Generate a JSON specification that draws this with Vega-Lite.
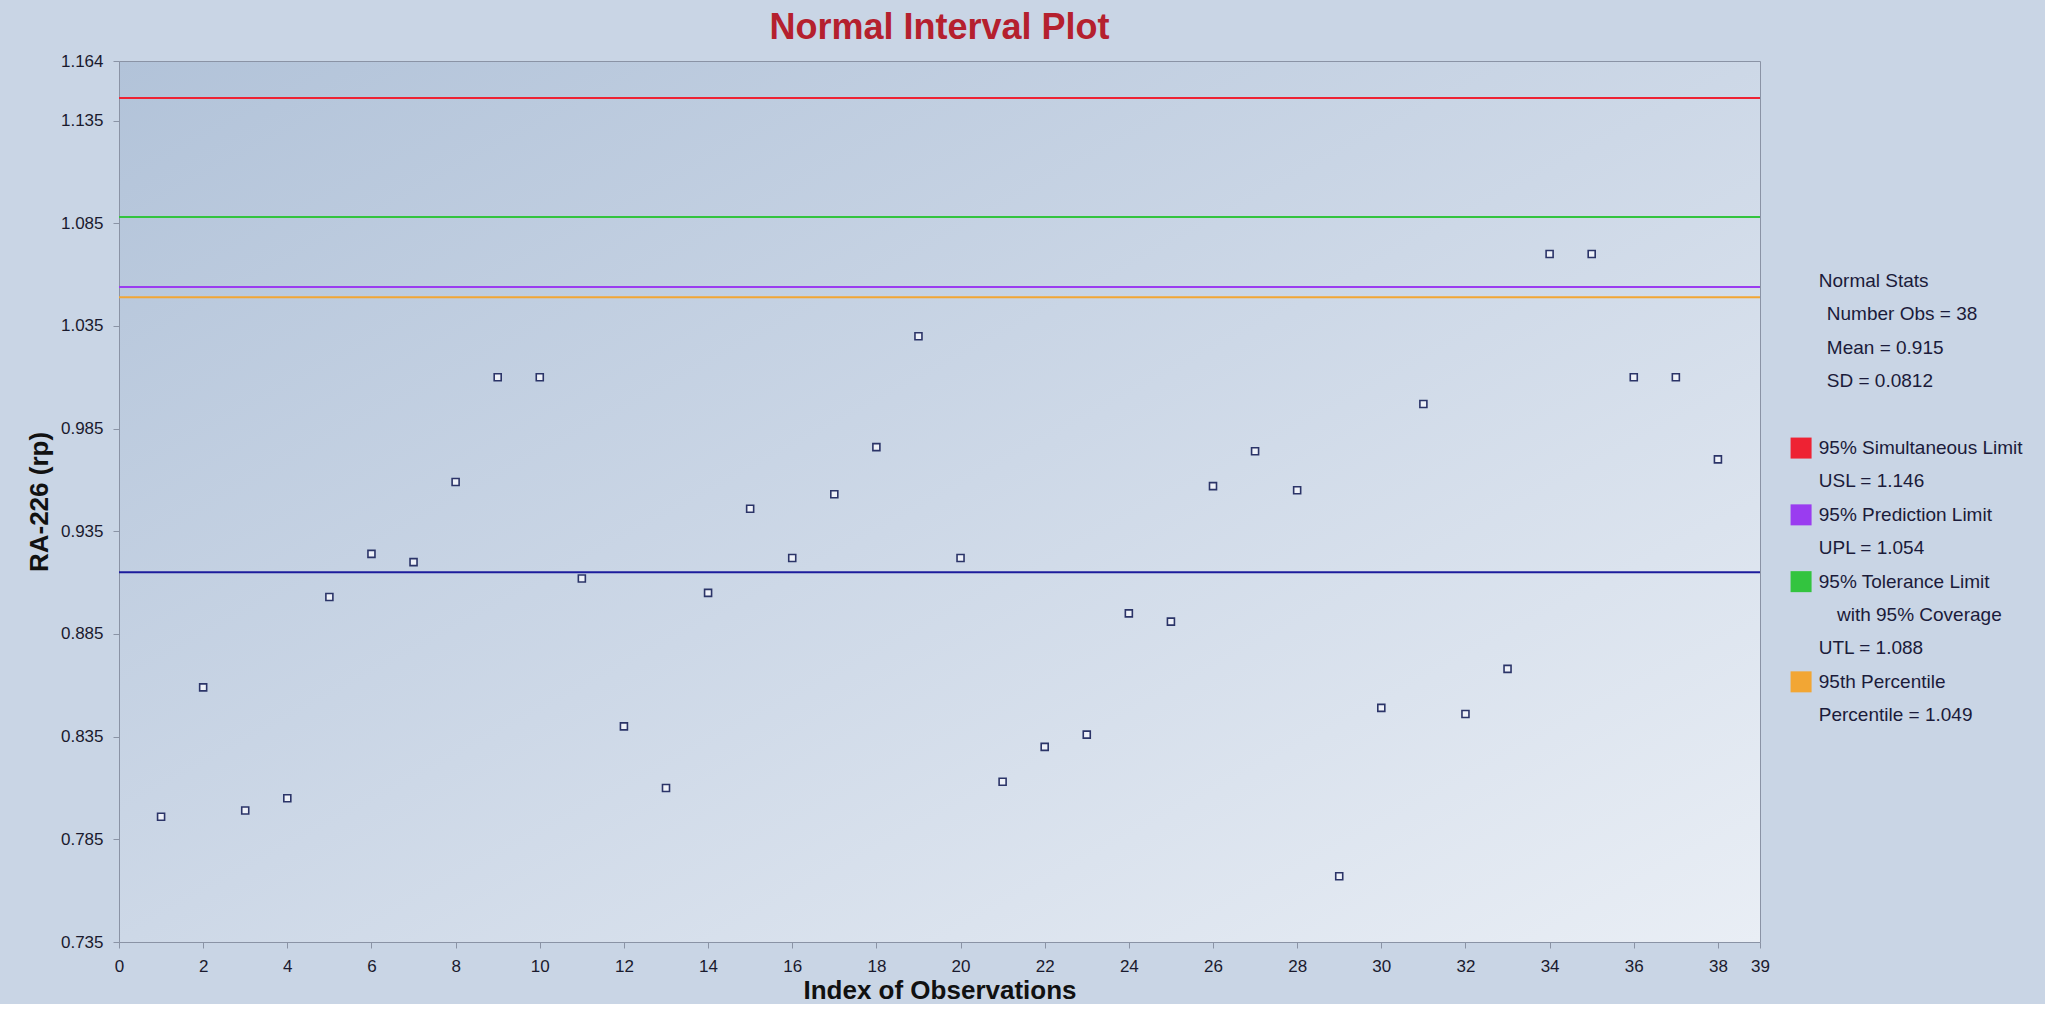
{
  "$schema": "https://vega.github.io/schema/vega-lite/v6.json",
  "background": "#c9d5e5",
  "padding": {"left": 25, "top": 9, "right": 0, "bottom": 0},
  "config": {
    "font": "Liberation Sans",
    "view": {"stroke": null},
    "axis": {"labelFont": "Liberation Sans", "titleFont": "Liberation Sans", "labelColor": "#1a1a2e", "titleColor": "#111111", "grid": false, "domain": false, "tickColor": "#8a93a5"}
  },
  "datasets": {
    "obs": [
      {"index": 1, "value": 0.796}, {"index": 2, "value": 0.859}, {"index": 3, "value": 0.799}, {"index": 4, "value": 0.805},
      {"index": 5, "value": 0.903}, {"index": 6, "value": 0.924}, {"index": 7, "value": 0.920}, {"index": 8, "value": 0.959},
      {"index": 9, "value": 1.010}, {"index": 10, "value": 1.010}, {"index": 11, "value": 0.912}, {"index": 12, "value": 0.840},
      {"index": 13, "value": 0.810}, {"index": 14, "value": 0.905}, {"index": 15, "value": 0.946}, {"index": 16, "value": 0.922},
      {"index": 17, "value": 0.953}, {"index": 18, "value": 0.976}, {"index": 19, "value": 1.030}, {"index": 20, "value": 0.922},
      {"index": 21, "value": 0.813}, {"index": 22, "value": 0.830}, {"index": 23, "value": 0.836}, {"index": 24, "value": 0.895},
      {"index": 25, "value": 0.891}, {"index": 26, "value": 0.957}, {"index": 27, "value": 0.974}, {"index": 28, "value": 0.955},
      {"index": 29, "value": 0.767}, {"index": 30, "value": 0.849}, {"index": 31, "value": 0.997}, {"index": 32, "value": 0.846},
      {"index": 33, "value": 0.868}, {"index": 34, "value": 1.070}, {"index": 35, "value": 1.070}, {"index": 36, "value": 1.010},
      {"index": 37, "value": 1.010}, {"index": 38, "value": 0.970}
    ],
    "limits": [
      {"name": "Simultaneous", "value": 1.146},
      {"name": "Tolerance", "value": 1.088},
      {"name": "Prediction", "value": 1.054},
      {"name": "Percentile", "value": 1.049},
      {"name": "Mean", "value": 0.915}
    ],
    "stats": [
      {"row": 0, "level": 0, "label": "Normal Stats"},
      {"row": 1, "level": 1, "label": "Number Obs = 38"},
      {"row": 2, "level": 1, "label": "Mean = 0.915"},
      {"row": 3, "level": 1, "label": "SD = 0.0812"},
      {"row": 5, "level": 0, "label": "95% Simultaneous Limit"},
      {"row": 6, "level": 0, "label": "USL = 1.146"},
      {"row": 7, "level": 0, "label": "95% Prediction Limit"},
      {"row": 8, "level": 0, "label": "UPL = 1.054"},
      {"row": 9, "level": 0, "label": "95% Tolerance Limit"},
      {"row": 10, "level": 2, "label": "with 95% Coverage"},
      {"row": 11, "level": 0, "label": "UTL = 1.088"},
      {"row": 12, "level": 0, "label": "95th Percentile"},
      {"row": 13, "level": 0, "label": "Percentile = 1.049"}
    ],
    "swatches": [
      {"row": 5, "name": "Simultaneous"},
      {"row": 7, "name": "Prediction"},
      {"row": 9, "name": "Tolerance"},
      {"row": 12, "name": "Percentile"}
    ]
  },
  "spacing": 16,
  "hconcat": [
    {
      "width": 1641,
      "height": 881,
      "title": {"text": "Normal Interval Plot", "color": "#b5202e", "fontSize": 36, "fontWeight": "bold", "font": "Liberation Sans", "offset": 5, "anchor": "middle"},
      "view": {
        "stroke": "#8a93a5",
        "strokeWidth": 1,
        "fill": {"gradient": "linear", "x1": 0, "y1": 0, "x2": 1, "y2": 1, "stops": [{"offset": 0, "color": "#b2c3d9"}, {"offset": 0.5, "color": "#cdd8e7"}, {"offset": 1, "color": "#e9eef5"}]}
      },
      "layer": [
        {
          "data": {"name": "limits"},
          "mark": {"type": "rule", "strokeWidth": 2},
          "encoding": {
            "y": {"field": "value", "type": "quantitative", "scale": {"domain": [0.735, 1.164], "nice": false, "zero": false}},
            "color": {"field": "name", "type": "nominal", "legend": null,
              "scale": {"domain": ["Simultaneous", "Tolerance", "Prediction", "Percentile", "Mean"], "range": ["#ee2233", "#33c43f", "#9a3cf0", "#f2a634", "#1c1c9c"]}}
          }
        },
        {
          "data": {"name": "obs"},
          "mark": {"type": "point", "shape": "square", "size": 49, "filled": true, "fill": "#eef1f8", "stroke": "#2b3468", "strokeWidth": 1.6, "opacity": 1},
          "encoding": {
            "x": {"field": "index", "type": "quantitative",
              "scale": {"domain": [0, 39], "nice": false, "zero": false},
              "axis": {"title": "Index of Observations", "values": [0,2,4,6,8,10,12,14,16,18,20,22,24,26,28,30,32,34,36,38,39], "labelFontSize": 17, "titleFontSize": 26, "titleFontWeight": "bold", "tickSize": 6, "labelPadding": 10, "titlePadding": 3, "labelFlush": false}},
            "y": {"field": "value", "type": "quantitative",
              "scale": {"domain": [0.735, 1.164], "nice": false, "zero": false},
              "axis": {"title": "RA-226 (rp)", "values": [0.735,0.785,0.835,0.885,0.935,0.985,1.035,1.085,1.135,1.164], "format": ".3f", "labelFontSize": 17, "titleFontSize": 26, "titleFontWeight": "bold", "tickSize": 6, "labelPadding": 10, "titlePadding": 8, "labelFlush": false}}
          }
        }
      ]
    },
    {
      "width": 260,
      "height": 881,
      "view": {"stroke": null, "fill": null},
      "layer": [
        {
          "data": {"name": "swatches"},
          "mark": {"type": "point", "shape": "square", "size": 441, "filled": true, "opacity": 1},
          "encoding": {
            "x": {"datum": 0, "type": "quantitative", "scale": {"domain": [-0.58, 9.42], "nice": false, "zero": false}, "axis": null},
            "y": {"field": "row", "type": "quantitative", "scale": {"domain": [-6.59, 19.79], "nice": false, "zero": false, "reverse": true}, "axis": null},
            "color": {"field": "name", "type": "nominal", "legend": null,
              "scale": {"domain": ["Simultaneous", "Tolerance", "Prediction", "Percentile", "Mean"], "range": ["#ff1a2e", "#2ecc3a", "#8b35ee", "#ffab10", "#1c1c9c"]}}
          }
        },
        {
          "data": {"name": "stats"},
          "transform": [{"filter": "datum.level == 0"}],
          "mark": {"type": "text", "align": "left", "baseline": "middle", "fontSize": 19, "color": "#1b1b3a", "font": "Liberation Sans"},
          "encoding": {
            "x": {"datum": 0.68, "type": "quantitative", "scale": {"domain": [-0.58, 9.42], "nice": false, "zero": false}, "axis": null},
            "y": {"field": "row", "type": "quantitative", "scale": {"domain": [-6.59, 19.79], "nice": false, "zero": false, "reverse": true}, "axis": null},
            "text": {"field": "label"}
          }
        },
        {
          "data": {"name": "stats"},
          "transform": [{"filter": "datum.level == 1"}],
          "mark": {"type": "text", "align": "left", "baseline": "middle", "fontSize": 19, "color": "#1b1b3a", "font": "Liberation Sans"},
          "encoding": {
            "x": {"datum": 0.99, "type": "quantitative", "scale": {"domain": [-0.58, 9.42], "nice": false, "zero": false}, "axis": null},
            "y": {"field": "row", "type": "quantitative", "scale": {"domain": [-6.59, 19.79], "nice": false, "zero": false, "reverse": true}, "axis": null},
            "text": {"field": "label"}
          }
        },
        {
          "data": {"name": "stats"},
          "transform": [{"filter": "datum.level == 2"}],
          "mark": {"type": "text", "align": "left", "baseline": "middle", "fontSize": 19, "color": "#1b1b3a", "font": "Liberation Sans"},
          "encoding": {
            "x": {"datum": 1.38, "type": "quantitative", "scale": {"domain": [-0.58, 9.42], "nice": false, "zero": false}, "axis": null},
            "y": {"field": "row", "type": "quantitative", "scale": {"domain": [-6.59, 19.79], "nice": false, "zero": false, "reverse": true}, "axis": null},
            "text": {"field": "label"}
          }
        }
      ]
    }
  ]
}
